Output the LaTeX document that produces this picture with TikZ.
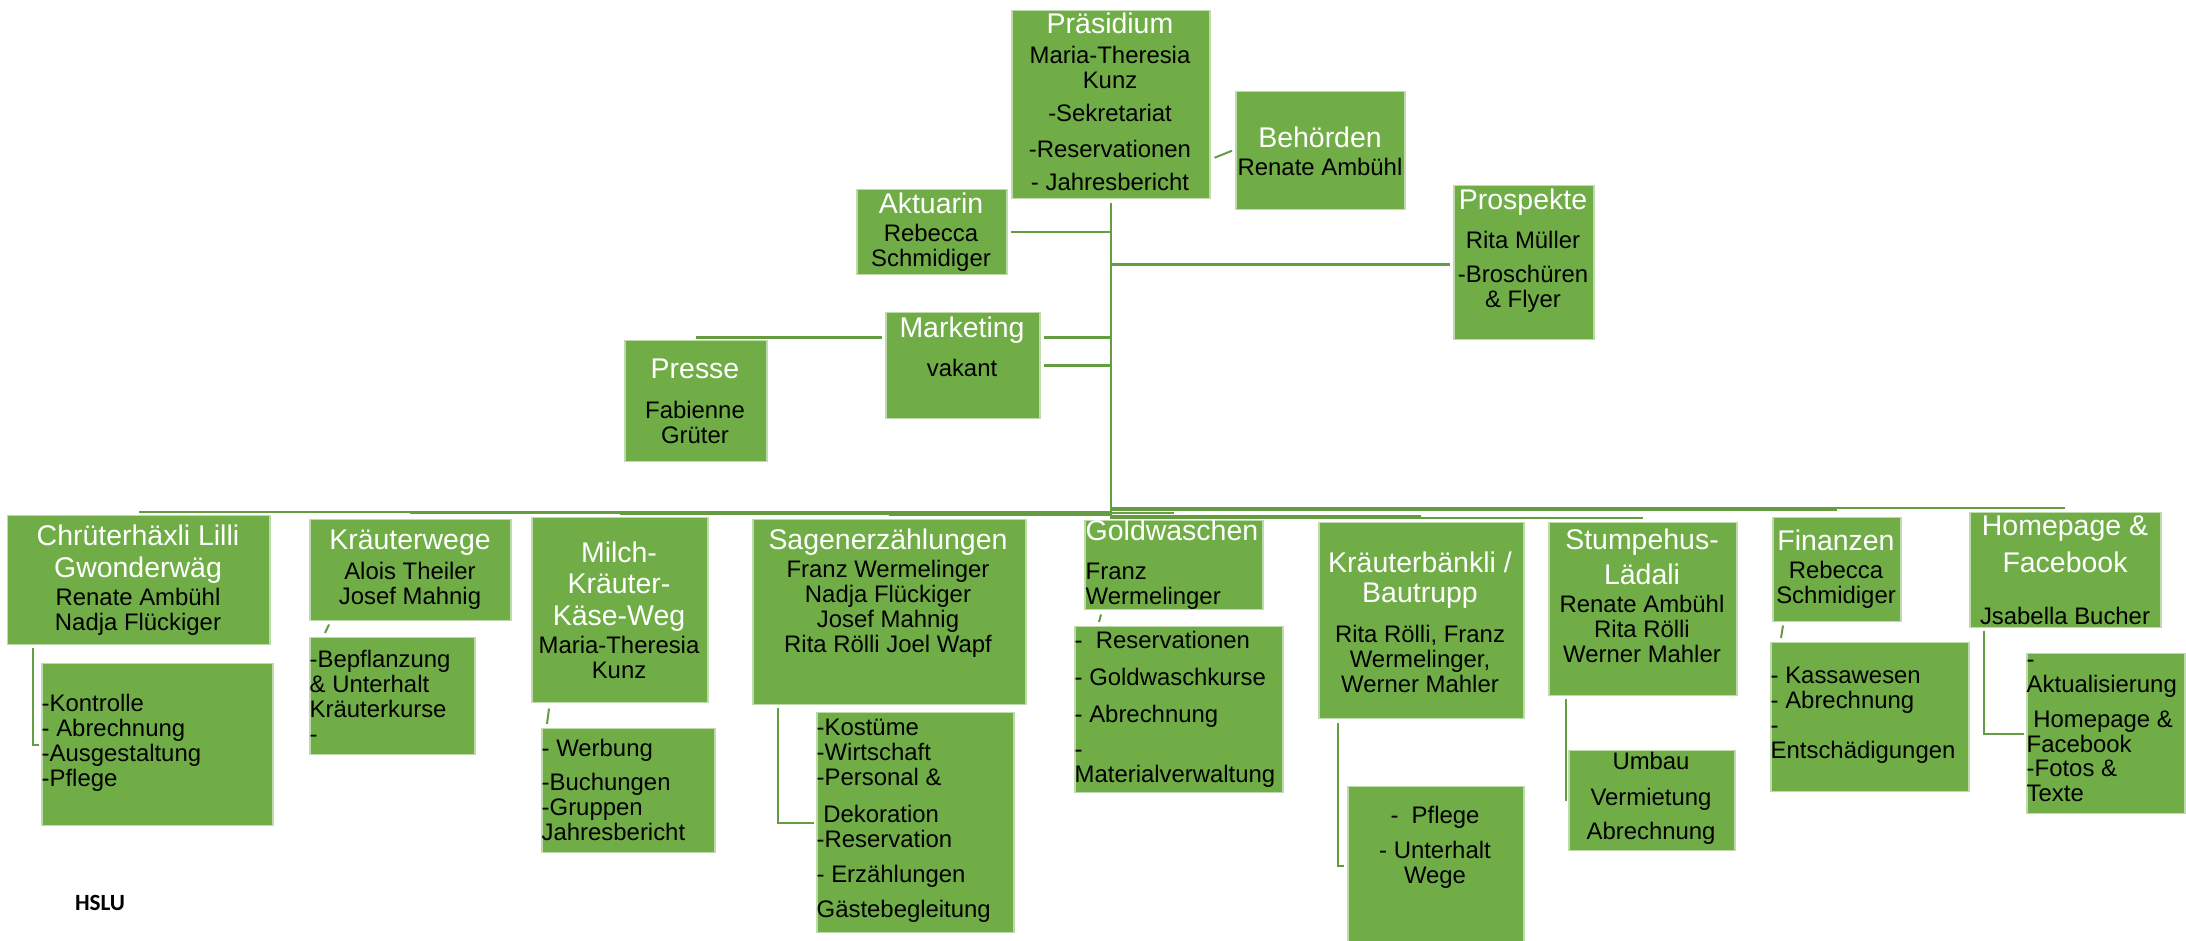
\documentclass[tikz,border=0pt]{standalone}
\usepackage{fontspec}
\setmainfont{Liberation Sans}
\newfontfamily\hslufont{Carlito}
\usepackage{xcolor}
\usetikzlibrary{positioning}
\usetikzlibrary{calc}
\definecolor{leaf}{RGB}{112,173,71}
\definecolor{stalk}{RGB}{100,156,64}
\newcommand{\ttl}[1]{{\color{white}\fontsize{8.1}{8.8}\selectfont #1}}
\tikzset{
    boxn/.style = {rectangle, fill=leaf, draw=white!55!leaf, line width=0.15mm, inner sep=0pt, anchor=north west},
    txtn/.style = {inner sep=0pt, align=center, font=\fontsize{6.8}{7.1}\selectfont},
    txtl/.style = {inner sep=0pt, align=left, anchor=west, font=\fontsize{6.8}{7.1}\selectfont},
}

\begin{document}
\begin{tikzpicture}[x=0.1mm, y=-0.1mm]
\tikzset{
    linkn/.style = {-, stalk, line width=0.25mm},
    links/.style = {-, stalk, line width=0.2mm},
}
\useasboundingbox (0,0) rectangle (2186,941);
% top
\node[boxn, minimum width=19.8mm, minimum height=18.8mm] at (1011,10) (pres) {};
\node[boxn, minimum width=16.9mm, minimum height=11.8mm] at (1235,91) (behoerden) {};
\node[boxn, minimum width=15.0mm, minimum height=8.5mm] at (856,189) (aktuarin) {};
\node[boxn, minimum width=14.0mm, minimum height=15.4mm] at (1453,185) (prospekte) {};
\node[boxn, minimum width=15.4mm, minimum height=10.6mm] at (885,312) (marketing) {};
\node[boxn, minimum width=14.2mm, minimum height=12.1mm] at (624,340) (presse) {};
%
\node[txtn] at (1110,102) (presT) {\ttl{Präsidium}\\[0.5mm] Maria-Theresia\\ Kunz\\[0.8mm] -Sekretariat\\[1.1mm] -Reservationen\\[0.8mm] - Jahresbericht};
\node[txtn] at (1320,151) (behoerdenT) {\ttl{Behörden}\\[0.3mm] Renate Ambühl};
\node[txtn] at (931,232) (aktuarinT) {\ttl{Aktuarin}\\[0.3mm] Rebecca\\ Schmidiger};
\node[txtn] at (1523,251) (prospekteT) {\ttl{Prospekte}\\[1.4mm] Rita Müller\\[0.9mm] -Broschüren\\ \& Flyer};
\node[txtn] at (962,347) (marketingT) {\ttl{Marketing}\\[1.4mm] vakant};
\node[txtn] at (695,401) (presseT) {\ttl{Presse}\\[1.5mm] Fabienne\\ Grüter};
% bottom row
\node[boxn, minimum width=26.2mm, minimum height=12.9mm] at (7,515) (chrueter) {};
\node[boxn, minimum width=23.1mm, minimum height=16.2mm] at (41,663) (chrueterSub) {};
\node[boxn, minimum width=20.1mm, minimum height=10.1mm] at (309,519) (kwege) {};
\node[boxn, minimum width=16.5mm, minimum height=11.7mm] at (309,637) (kwegeSub) {};
\node[boxn, minimum width=17.6mm, minimum height=18.5mm] at (531,517) (milch) {};
\node[boxn, minimum width=17.3mm, minimum height=12.4mm] at (541,728) (milchSub) {};
\node[boxn, minimum width=27.3mm, minimum height=18.5mm] at (752,519) (sagen) {};
\node[boxn, minimum width=19.7mm, minimum height=22.0mm] at (816,712) (sagenSub) {};
\node[boxn, minimum width=17.8mm, minimum height=8.9mm] at (1084,520) (gold) {};
\node[boxn, minimum width=20.8mm, minimum height=16.6mm] at (1074,626) (goldSub) {};
\node[boxn, minimum width=20.5mm, minimum height=19.6mm] at (1318,522) (bank) {};
\node[boxn, minimum width=17.6mm, minimum height=15.8mm] at (1347,786) (bankSub) {};
\node[boxn, minimum width=18.8mm, minimum height=17.3mm] at (1548,522) (stumpe) {};
\node[boxn, minimum width=16.6mm, minimum height=10.0mm] at (1568,750) (stumpeSub) {};
\node[boxn, minimum width=12.8mm, minimum height=10.4mm] at (1772,517) (finanz) {};
\node[boxn, minimum width=19.8mm, minimum height=14.9mm] at (1770,642) (finanzSub) {};
\node[boxn, minimum width=19.1mm, minimum height=11.5mm] at (1969,512) (home) {};
\node[boxn, minimum width=15.8mm, minimum height=16.0mm] at (2026,653) (homeSub) {};
%
\node[txtn] at (138,580) (chrueterT) {\ttl{Chrüterhäxli Lilli}\\[0.7mm] \ttl{Gwonderwäg}\\[0.3mm] Renate Ambühl\\ Nadja Flückiger};
\node[txtl] at (41,743) (chrueterSubT) {-Kontrolle\\ - Abrechnung\\ -Ausgestaltung\\ -Pflege};
\node[txtn] at (410,570) (kwegeT) {\ttl{Kräuterwege}\\[0.5mm] Alois Theiler\\ Josef Mahnig};
\node[txtl] at (309,696) (kwegeSubT) {-Bepflanzung\\ \& Unterhalt\\ Kräuterkurse\\ -};
\node[txtn] at (619,610) (milchT) {\ttl{Milch-}\\[0.6mm] \ttl{Kräuter-}\\[0.7mm] \ttl{Käse-Weg}\\[0.3mm] Maria-Theresia\\ Kunz};
\node[txtl] at (541,790) (milchSubT) {- Werbung\\[0.9mm] -Buchungen\\ -Gruppen\\ Jahresbericht};
\node[txtn] at (888,593) (sagenT) {\ttl{Sagenerzählungen}\\[0.3mm] Franz Wermelinger\\ Nadja Flückiger\\ Josef Mahnig\\ Rita Rölli Joel Wapf};
\node[txtl] at (816,821) (sagenSubT) {-Kostüme\\ -Wirtschaft\\ -Personal \&\\[1.2mm] \ Dekoration\\ -Reservation\\[1mm] - Erzählungen\\[1mm] Gästebegleitung};
\node[txtl] at (1085,565) (goldT) {\ttl{Goldwaschen}\\[1.4mm] Franz\\ Wermelinger};
\node[txtl] at (1074,709) (goldSubT) {-\ \ Reservationen\\[1.2mm] - Goldwaschkurse\\[1.2mm] - Abrechnung\\[1mm] -\\ Materialverwaltung};
\node[txtn] at (1420,622) (bankT) {\ttl{Kräuterbänkli /}\\[0.5mm] \ttl{Bautrupp}\\[1.5mm] Rita Rölli, Franz\\ Wermelinger,\\ Werner Mahler};
\node[txtn] at (1435,847) (bankSubT) {-\ \ Pflege\\[1mm] - Unterhalt\\ Wege};
\node[txtn] at (1642,596) (stumpeT) {\ttl{Stumpehus-}\\[0.5mm] \ttl{Lädali}\\[0.3mm] Renate Ambühl\\ Rita Rölli\\ Werner Mahler};
\node[txtn] at (1651,798) (stumpeSubT) {Umbau\\[1.1mm] Vermietung\\[0.9mm] Abrechnung};
\node[txtn] at (1836,569) (finanzT) {\ttl{Finanzen}\\[0.3mm] Rebecca\\ Schmidiger};
\node[txtl] at (1770,715) (finanzSubT) {- Kassawesen\\ - Abrechnung\\ -\\ Entschädigungen};
\node[txtn] at (2065,570) (homeT) {\ttl{Homepage \&}\\[0.7mm] \ttl{Facebook}\\[2.7mm] Jsabella Bucher};
\node[txtl] at (2026,731) (homeSubT) {-\\ Aktualisierung\\[1mm] \ Homepage \&\\ Facebook\\ -Fotos \&\\ Texte};
%
\node[font=\hslufont\bfseries\fontsize{6.6}{7}\selectfont, inner sep=0pt] at (100,903) (hslu) {HSLU};
% stem and branches
\draw[linkn] ($(pres.south)+(0,4)$) -- ($(pres.south)+(0,320)$);
\draw[links] ($(pres.east)+(4,53)$) -- ($(behoerden.west)+(-3,0)$);
\draw[linkn] ($(aktuarin.east)+(3,0)$) -- (aktuarin.east -| pres.south);
\draw[linkn] ($(prospekte.west)+(-3,2)$) -- ($(prospekte.west -| pres.south)+(0,2)$);
\draw[linkn] ($(marketing.east)+(3,0)$) -- (marketing.east -| pres.south);
\coordinate (mkUp) at ($(marketing.west)+(0,-28)$);
\draw[linkn] ($(mkUp -| marketing.east)+(3,0)$) -- (mkUp -| pres.south);
\draw[linkn] ($(mkUp)+(-3,0)$) -- (mkUp -| presse.north);
% bus
\draw[linkn] ($(chrueter.north)+(0,-3)$) -- ($(chrueter.north -| pres.south)+(0,-3)$);
\draw[linkn] ($(kwege.north)+(0,-6)$) -- ($(kwege.north -| pres.south)+(0,-6)$);
\draw[linkn] ($(milch.north)+(0,-3)$) -- ($(milch.north -| pres.south)+(0,-3)$);
\draw[linkn] ($(sagen.north)+(0,-4)$) -- ($(sagen.north -| pres.south)+(0,-4)$);
\draw[linkn] ($(gold.north)+(0,-7)$) -- ($(gold.north -| pres.south)+(0,-7)$);
\draw[linkn] ($(bank.north)+(0,-6)$) -- ($(bank.north -| pres.south)+(0,-6)$);
\draw[linkn] ($(stumpe.north)+(0,-4)$) -- ($(stumpe.north -| pres.south)+(0,-4)$);
\draw[linkn] ($(finanz.north)+(0,-7)$) -- ($(finanz.north -| pres.south)+(0,-7)$);
\draw[linkn] ($(home.north)+(0,-4)$) -- ($(home.north -| pres.south)+(0,-4)$);
% sub links
\draw[links] ($(chrueter.south west)+(26,3)$) |- ($(chrueterSub.west)+(-2,0)$);
\draw[links] ($(kwege.south west)+(20,3)$) -- ($(kwegeSub.north west)+(16,-4)$);
\draw[links] ($(milch.south west)+(18,5)$) -- ($(milchSub.north west)+(6,-4)$);
\draw[links] ($(sagen.south west)+(26,3)$) |- ($(sagenSub.west)+(-2,0)$);
\draw[links] ($(gold.south west)+(17,4)$) -- ($(goldSub.north west)+(25,-4)$);
\draw[links] ($(bank.south west)+(20,4)$) |- ($(bankSub.west)+(-3,0)$);
\draw[links] ($(stumpe.south west)+(18,3)$) -- ($(stumpeSub.west)+(-2,0)$);
\draw[links] ($(finanz.south west)+(11,3)$) -- ($(finanzSub.north west)+(11,-4)$);
\draw[links] ($(home.south west)+(15,3)$) |- ($(homeSub.west)+(-2,0)$);
\end{tikzpicture}
\end{document}
